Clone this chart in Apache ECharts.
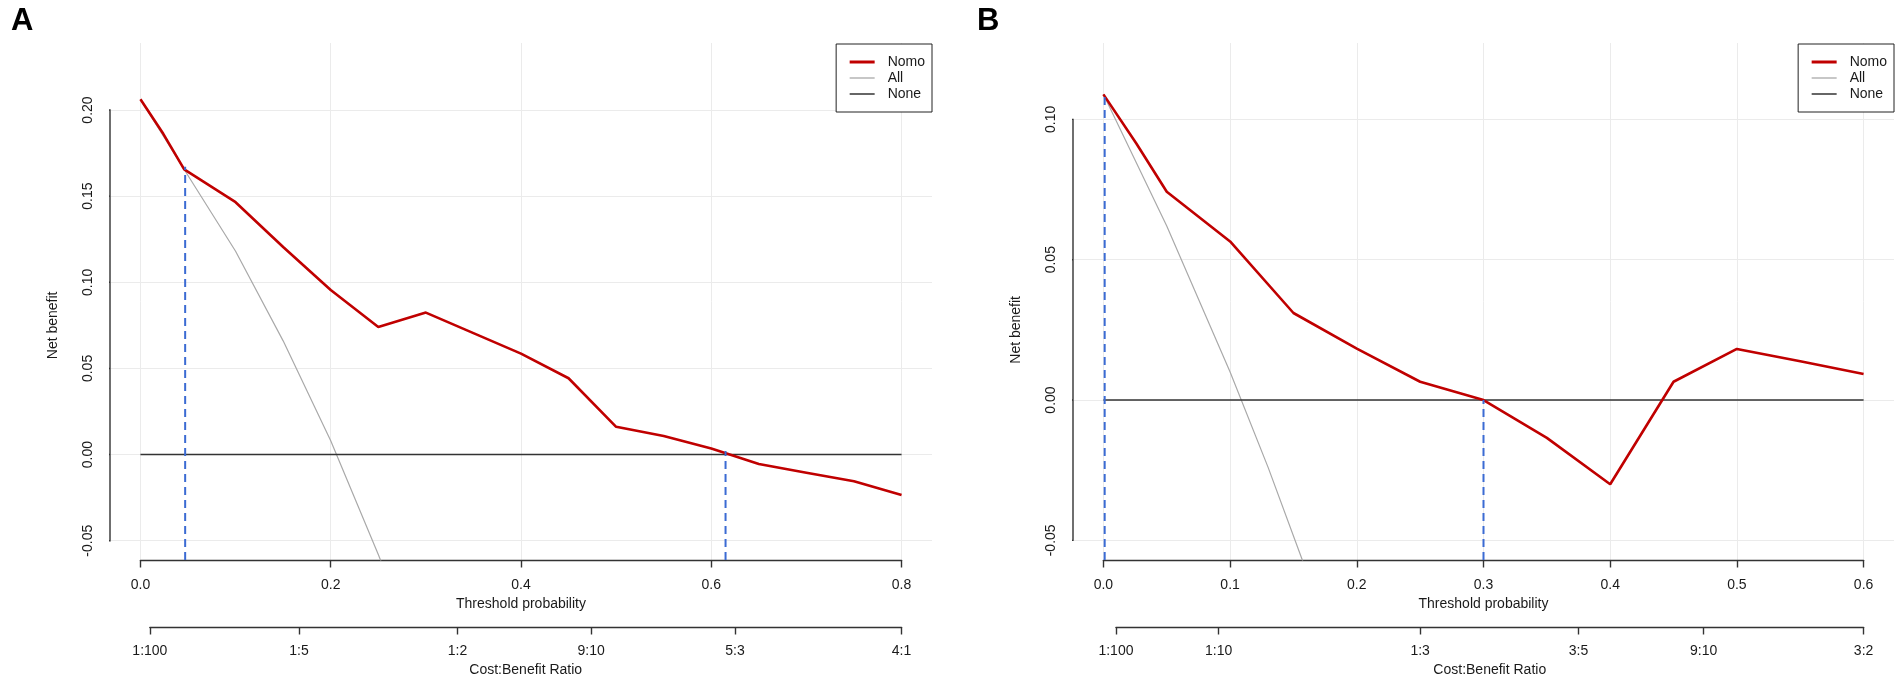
<!DOCTYPE html>
<html>
<head>
<meta charset="utf-8">
<script src="https://cdn.jsdelivr.net/npm/echarts@6/dist/echarts.min.js"></script>
<style>
html, body { margin: 0; padding: 0; background: #fff; }
#main { width: 1902px; height: 688px; }
</style>
</head>
<body>
<div id="main"></div>
<script>
// panel A data
var nomoA_x = [0, 0.024, 0.046, 0.1, 0.15, 0.2, 0.25, 0.3, 0.35, 0.4, 0.45, 0.5, 0.55, 0.6, 0.65, 0.7, 0.75, 0.8];
var nomoA_y = [0.2062, 0.1862, 0.1655, 0.1465, 0.1205, 0.0955, 0.0741, 0.0824, 0.0705, 0.0586, 0.0443, 0.0161, 0.0108, 0.0035, -0.0055, -0.0105, -0.0155, -0.0235];
var allA_x = [0, 0.046, 0.1, 0.15, 0.2, 0.25, 0.26];
var allA_y = [0.2062, 0.1655, 0.118, 0.066, 0.008, -0.058, -0.072];
var noneA_x = [0, 0.8];
var noneA_y = [0, 0];
var cutA_x = [0.047, 0.615];
var cutA_top = [0.167, 0.002];
var probTicksA = [0, 0.2, 0.4, 0.6, 0.8];
var netTicksA = [-0.05, 0, 0.05, 0.1, 0.15, 0.2];
var ratioPosA = [0.0099, 0.1667, 0.3333, 0.4737, 0.625, 0.8];
var ratioLabelsA = ['1:100', '1:5', '1:2', '9:10', '5:3', '4:1'];

// panel B data
var nomoB_x = [0, 0.026, 0.05, 0.1, 0.15, 0.2, 0.25, 0.3, 0.35, 0.4, 0.45, 0.5, 0.55, 0.6];
var nomoB_y = [0.1089, 0.0914, 0.0742, 0.0565, 0.031, 0.0183, 0.0065, 0.0, -0.0135, -0.03, 0.0065, 0.0182, 0.0138, 0.0093];
var allB_x = [0, 0.05, 0.1, 0.13, 0.157, 0.166];
var allB_y = [0.1089, 0.062, 0.01, -0.024, -0.057, -0.068];
var noneB_x = [0, 0.6];
var noneB_y = [0, 0];
var cutB_x = [0.001, 0.3];
var cutB_top = [0.108, 0.0];
var probTicksB = [0, 0.1, 0.2, 0.3, 0.4, 0.5, 0.6];
var netTicksB = [-0.05, 0, 0.05, 0.1];
var ratioPosB = [0.0099, 0.0909, 0.25, 0.375, 0.4737, 0.6];
var ratioLabelsB = ['1:100', '1:10', '1:3', '3:5', '9:10', '3:2'];

var FONT = 'Liberation Sans, Arial, sans-serif';
var INK = '#1a1a1a';
var LINE = { color: '#333', width: 1.4 };
var TICK_LEN = 7.5;

// plot region of each panel (pixels + value extents, like R's usr)
var layoutA = { label: 'A', labelX: 6, left: 110, right: 932, top: 43, bottom: 560, ratioY: 627,
     xMin: -0.032, xMax: 0.832, yMin: -0.0612, yMax: 0.2389 };
var layoutB = { label: 'B', labelX: 972, left: 1073, right: 1894, top: 43, bottom: 560, ratioY: 627,
     xMin: -0.024, xMax: 0.624, yMin: -0.057, yMax: 0.1272 };

function px(L, v) { return L.left + (v - L.xMin) / (L.xMax - L.xMin) * (L.right - L.left); }
function py(L, v) { return L.top + (L.yMax - v) / (L.yMax - L.yMin) * (L.bottom - L.top); }
function zip(xs, ys) {
     var out = [];
     for (var i = 0; i < xs.length; i++) out.push([xs[i], ys[i]]);
     return out;
}

var option = {
     animation: false,
     backgroundColor: '#fff',
     title: [],
     legend: [],
     grid: [],
     xAxis: [],
     yAxis: [],
     series: []
};

function hidden(gi, mn, mx) {
     return { type: 'value', gridIndex: gi, min: mn, max: mx, show: false,
          axisLine: { show: false, onZero: false }, splitLine: { show: false } };
}

function addPanel(L, d) {
     var g = option.grid.length;
     var pt = d.probTicks, nt = d.netTicks, rp = d.ratioPos;
     var netTop = py(L, nt[nt.length - 1]);
     var netH = py(L, nt[0]) - netTop;
     // 0: data region
     option.grid.push({ left: L.left, top: L.top, width: L.right - L.left, height: L.bottom - L.top, outerBoundsMode: 'none' });
     // 1: threshold axis + vertical grid lines
     option.grid.push({ left: px(L, pt[0]), top: L.top, width: px(L, pt[pt.length - 1]) - px(L, pt[0]), height: L.bottom - L.top, outerBoundsMode: 'none' });
     // 2: net benefit labels + horizontal grid lines
     option.grid.push({ left: L.left, top: netTop, width: L.right - L.left, height: netH, outerBoundsMode: 'none' });
     // 3: cost:benefit axis
     option.grid.push({ left: px(L, rp[0]), top: L.ratioY - 20, width: px(L, rp[rp.length - 1]) - px(L, rp[0]), height: 20, outerBoundsMode: 'none' });

     option.xAxis.push(hidden(g, L.xMin, L.xMax));
     option.yAxis.push(hidden(g, L.yMin, L.yMax));

     option.xAxis.push({
          type: 'value', gridIndex: g + 1, position: 'bottom',
          min: pt[0], max: pt[pt.length - 1], interval: pt[1] - pt[0],
          axisLine: { show: true, onZero: false, lineStyle: LINE },
          axisTick: { show: true, length: TICK_LEN, lineStyle: LINE },
          axisLabel: { margin: 18, fontSize: 14, fontFamily: FONT, color: INK,
               formatter: function (v) { return v.toFixed(1); } },
          splitLine: { show: true, lineStyle: { color: '#ebebeb', width: 1 } },
          name: 'Threshold probability', nameLocation: 'middle', nameGap: 36,
          nameTextStyle: { fontSize: 14, fontFamily: FONT, color: INK }
     });
     option.yAxis.push(hidden(g + 1, 0, 1));

     option.xAxis.push(hidden(g + 2, 0, 1));
     option.yAxis.push({
          type: 'value', gridIndex: g + 2, position: 'left',
          min: nt[0], max: nt[nt.length - 1], interval: nt[1] - nt[0],
          axisLine: { show: false, onZero: false },
          axisTick: { show: false },
          axisLabel: { margin: 15, rotate: 90, fontSize: 14, fontFamily: FONT, color: INK,
               formatter: function (v) { return v.toFixed(2); } },
          splitLine: { show: true, lineStyle: { color: '#ebebeb', width: 1 } },
          name: 'Net benefit', nameLocation: 'middle', nameGap: 50, nameRotate: 90,
          nameTextStyle: { fontSize: 14, fontFamily: FONT, color: INK }
     });

     option.xAxis.push({
          type: 'value', gridIndex: g + 3, position: 'bottom',
          min: rp[0], max: rp[rp.length - 1],
          axisLine: { show: true, onZero: false, lineStyle: LINE },
          axisTick: { show: true, length: TICK_LEN, customValues: rp, lineStyle: LINE },
          axisLabel: { margin: 17, fontSize: 14, fontFamily: FONT, color: INK, customValues: rp,
               showMinLabel: true, showMaxLabel: true,
               formatter: function (v) {
                    for (var i = 0; i < rp.length; i++) {
                         if (Math.abs(rp[i] - v) < 1e-6) return d.ratioLabels[i];
                    }
                    return '';
               } },
          splitLine: { show: false },
          name: 'Cost:Benefit Ratio', nameLocation: 'middle', nameGap: 36,
          nameTextStyle: { fontSize: 14, fontFamily: FONT, color: INK }
     });
     option.yAxis.push(hidden(g + 3, 0, 1));

     var base = { type: 'line', xAxisIndex: g, yAxisIndex: g, symbol: 'none', silent: true, clip: true };

     // net benefit axis line with outward ticks, placed on the region's left edge (R style)
     var tickVal = TICK_LEN / (L.right - L.left) * (L.xMax - L.xMin);
     var axisPath = [];
     for (var k = 0; k < nt.length; k++) {
          axisPath.push([L.xMin, nt[k]]);
          axisPath.push([L.xMin - tickVal, nt[k]]);
          axisPath.push([L.xMin, nt[k]]);
     }
     option.series.push(Object.assign({}, base, { name: 'yaxis', data: axisPath, clip: false, z: 3,
          lineStyle: { color: LINE.color, width: LINE.width, cap: 'square' } }));

     option.series.push(Object.assign({}, base, { name: 'All', data: zip(d.allX, d.allY),
          lineStyle: { color: '#a9a9a9', width: 1.2 }, itemStyle: { color: '#a9a9a9' } }));
     option.series.push(Object.assign({}, base, { name: 'None', data: zip(d.noneX, d.noneY),
          lineStyle: { color: '#333', width: 1.5 }, itemStyle: { color: '#333' } }));
     option.series.push(Object.assign({}, base, { name: 'Nomo', data: zip(d.nomoX, d.nomoY),
          lineStyle: { color: '#c00000', width: 2.6 }, itemStyle: { color: '#c00000' } }));
     for (var i = 0; i < d.cutX.length; i++) {
          option.series.push(Object.assign({}, base, { name: 'cut',
               data: [[d.cutX[i], L.yMin], [d.cutX[i], d.cutTop[i]]],
               lineStyle: { color: '#3b6bd3', width: 2, type: [8, 5] } }));
     }

     option.legend.push({
          data: [
               { name: 'Nomo', lineStyle: { width: 3 } },
               { name: 'All', lineStyle: { width: 1.3 } },
               { name: 'None', lineStyle: { width: 1.5 } }
          ],
          orient: 'vertical',
          right: 1902 - L.right, top: L.top + 1,
          itemWidth: 25, itemHeight: 14, itemGap: 2,
          padding: [11, 7, 11, 12],
          borderColor: '#222', borderWidth: 1, borderRadius: 0,
          backgroundColor: '#fff',
          selectedMode: false,
          itemStyle: { opacity: 0 },
          textStyle: { fontSize: 14, fontFamily: FONT, color: INK, padding: [0, 0, 0, 8] }
     });

     option.title.push({
          text: L.label, left: L.labelX, top: 1,
          textStyle: { fontSize: 31, fontWeight: 'bold', fontFamily: FONT, color: '#000' }
     });
}

addPanel(layoutA, {
     nomoX: nomoA_x, nomoY: nomoA_y, allX: allA_x, allY: allA_y, noneX: noneA_x, noneY: noneA_y,
     cutX: cutA_x, cutTop: cutA_top, probTicks: probTicksA, netTicks: netTicksA,
     ratioPos: ratioPosA, ratioLabels: ratioLabelsA
});
addPanel(layoutB, {
     nomoX: nomoB_x, nomoY: nomoB_y, allX: allB_x, allY: allB_y, noneX: noneB_x, noneY: noneB_y,
     cutX: cutB_x, cutTop: cutB_top, probTicks: probTicksB, netTicks: netTicksB,
     ratioPos: ratioPosB, ratioLabels: ratioLabelsB
});

var chart = echarts.init(document.getElementById('main'));
chart.setOption(option);
</script>
</body>
</html>
